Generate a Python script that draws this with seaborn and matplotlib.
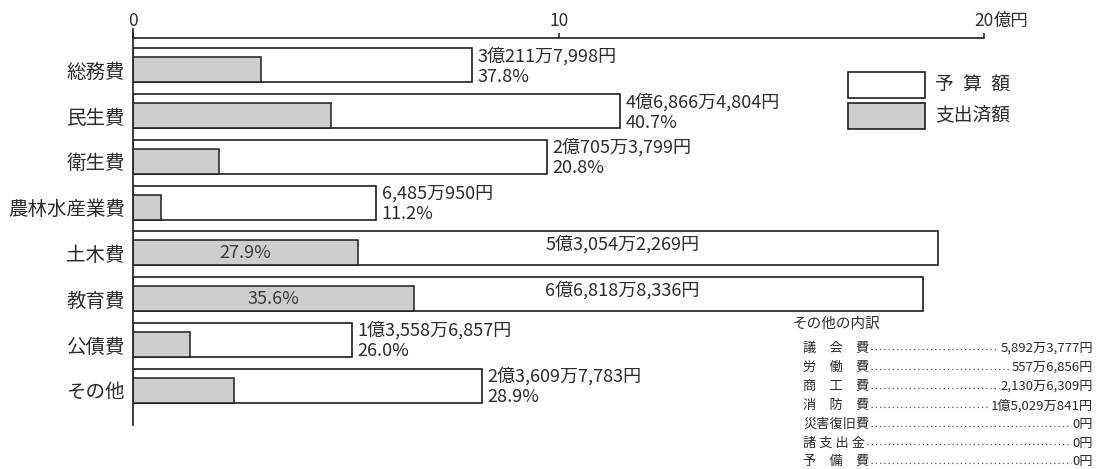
import numpy as np
import pandas as pd
import matplotlib
matplotlib.use('Agg')
import matplotlib.pyplot as plt
from matplotlib.patches import Patch
from matplotlib.lines import Line2D
import seaborn as sns

# bar data (bar lengths in axis units of the drawing)
categories = ['総務費', '民生費', '衛生費', '農林水産業費', '土木費', '教育費', '公債費', 'その他']
budget_len = [7.96, 11.44, 9.73, 5.71, 18.93, 18.56, 5.14, 8.19]
spent_pct = [37.8, 40.7, 20.8, 11.2, 27.9, 35.6, 26.0, 28.9]
budget_text = ['3億211万7,998円', '4億6,866万4,804円', '2億705万3,799円', '6,485万950円',
               '5億3,054万2,269円', '6億6,818万8,336円', '1億3,558万6,857円', '2億3,609万7,783円']
label_inside = [False, False, False, False, True, True, False, False]

x_ticks = [0, 10, 20]
x_tick_labels = ['0', '10', '20']
x_unit = '億円'

legend_labels = ['予\u2002算\u2002額', '支出済額']

other_title = 'その他の内訳'
other_items = ['議\u3000会\u3000費', '労\u3000働\u3000費', '商\u3000工\u3000費', '消\u3000防\u3000費',
               '災害復旧費', '諸 支 出 金', '予\u3000備\u3000費']
other_values = ['5,892万3,777円', '557万6,856円', '2,130万6,309円', '1億5,029万841円',
                '0円', '0円', '0円']

ink = '#1e1e1e'
text_col = '#2b2b2b'
gray = '#cdcfcf'

W, H = 1099, 469

def fx(px):
    return px / W

def fy(py):
    return 1 - py / H

df = pd.DataFrame({'category': categories, 'budget': budget_len, 'pct': spent_pct})
df['pos'] = np.arange(len(df))
df['spent'] = df['budget'] * df['pct'] / 100

white_h = 0.743
gray_h = 0.547
gray_off = (white_h - gray_h) / 2
df['pos_spent'] = df['pos'] + gray_off

sns.set_theme(style='white')
plt.rcParams['font.family'] = ['Noto Sans CJK JP', 'DejaVu Sans']
plt.rcParams['text.color'] = text_col

fig = plt.figure(figsize=(W / 100, H / 100), dpi=100)
ax = fig.add_axes([fx(133.3), fy(425), fx(984) - fx(133.3), fy(38) - fy(425)])

sns.barplot(data=df, x='budget', y='pos', orient='y', native_scale=True, width=white_h,
            color='white', saturation=1, edgecolor=ink, linewidth=1.2, errorbar=None, ax=ax)
sns.barplot(data=df, x='spent', y='pos_spent', orient='y', native_scale=True, width=gray_h,
            color=gray, saturation=1, edgecolor=ink, linewidth=1.1, errorbar=None, ax=ax)

ax.set_xlim(0, 20)
ax.set_ylim(7.858, -0.601)
ax.set_xlabel('')
ax.set_ylabel('')

# axis on top, ticks pointing up
tick_len, tick_pad, tick_fs = 3.6, 2.5, 12.5
ax.xaxis.tick_top()
ax.set_xticks(x_ticks)
ax.set_xticklabels(x_tick_labels)
ax.tick_params(axis='x', direction='out', length=tick_len, width=1.1, pad=tick_pad,
               labelsize=tick_fs, colors=ink, labelcolor=text_col)
ax.annotate(x_unit, xy=(20, 1), xycoords=('data', 'axes fraction'),
            xytext=(6.8, tick_len + tick_pad), textcoords='offset points',
            ha='left', va='bottom', fontsize=tick_fs, color=text_col)

ax.set_yticks(df['pos'] + gray_off)
ax.set_yticklabels(categories)
ax.tick_params(axis='y', length=0, pad=6, labelsize=14, labelcolor=text_col)

for s in ['right', 'bottom']:
    ax.spines[s].set_visible(False)
for s in ['left', 'top']:
    ax.spines[s].set_color(ink)
    ax.spines[s].set_linewidth(1.2)
ax.spines['left'].set_bounds(7.858, -0.601 - 9 / 45.75)

# value labels
val_fs = 13
for i, row in df.iterrows():
    if label_inside[i]:
        ax.text(11.5, row['pos'] - 0.08, budget_text[i], ha='center', va='center',
                fontsize=val_fs, color=text_col)
        ax.text(row['spent'] / 2, row['pos_spent'], f"{row['pct']:.1f}%", ha='center',
                va='center', fontsize=val_fs, color='#3a3a3a')
    else:
        ax.annotate(budget_text[i], xy=(row['budget'], row['pos'] - 0.2), xytext=(4, 0),
                    textcoords='offset points', ha='left', va='center', fontsize=val_fs,
                    color=text_col)
        ax.annotate(f"{row['pct']:.1f}%", xy=(row['budget'], row['pos'] + 0.25), xytext=(4, 0),
                    textcoords='offset points', ha='left', va='center', fontsize=val_fs,
                    color=text_col)

# legend
handles = [Patch(facecolor='white', edgecolor=ink, linewidth=1.2),
           Patch(facecolor=gray, edgecolor=ink, linewidth=1.2)]
ax.legend(handles, legend_labels, loc='upper left', bbox_to_anchor=(fx(848), fy(71.7)),
          bbox_transform=fig.transFigure, frameon=False, fontsize=13.5,
          handlelength=4.1, handleheight=1.75, handletextpad=0.55, labelspacing=0.27,
          borderpad=0, borderaxespad=0)

# breakdown of その他
fig.text(fx(793), fy(324), other_title, ha='left', va='center', fontsize=10.5, color=text_col)
item_y = [348, 367.5, 386.5, 405.5, 424.5, 443, 461.5]
item_texts = []
for name, val, y in zip(other_items, other_values, item_y):
    t1 = fig.text(fx(803), fy(y), name, ha='left', va='center', fontsize=9.5, color=text_col)
    t2 = fig.text(fx(1093), fy(y), val, ha='right', va='center', fontsize=9.5, color=text_col)
    item_texts.append((t1, t2, y))

fig.canvas.draw()
renderer = fig.canvas.get_renderer()
for t1, t2, y in item_texts:
    b1 = t1.get_window_extent(renderer)
    b2 = t2.get_window_extent(renderer)
    x0 = b1.x1 + 2
    x1 = b2.x0 - 2
    fig.add_artist(Line2D([x0 / W, x1 / W], [fy(y + 1), fy(y + 1)], transform=fig.transFigure,
                          color='#555555', linewidth=0.9, linestyle=(0, (1, 2.4))))

fig.savefig('out.png', dpi=100, facecolor='white')
plt.close(fig)
